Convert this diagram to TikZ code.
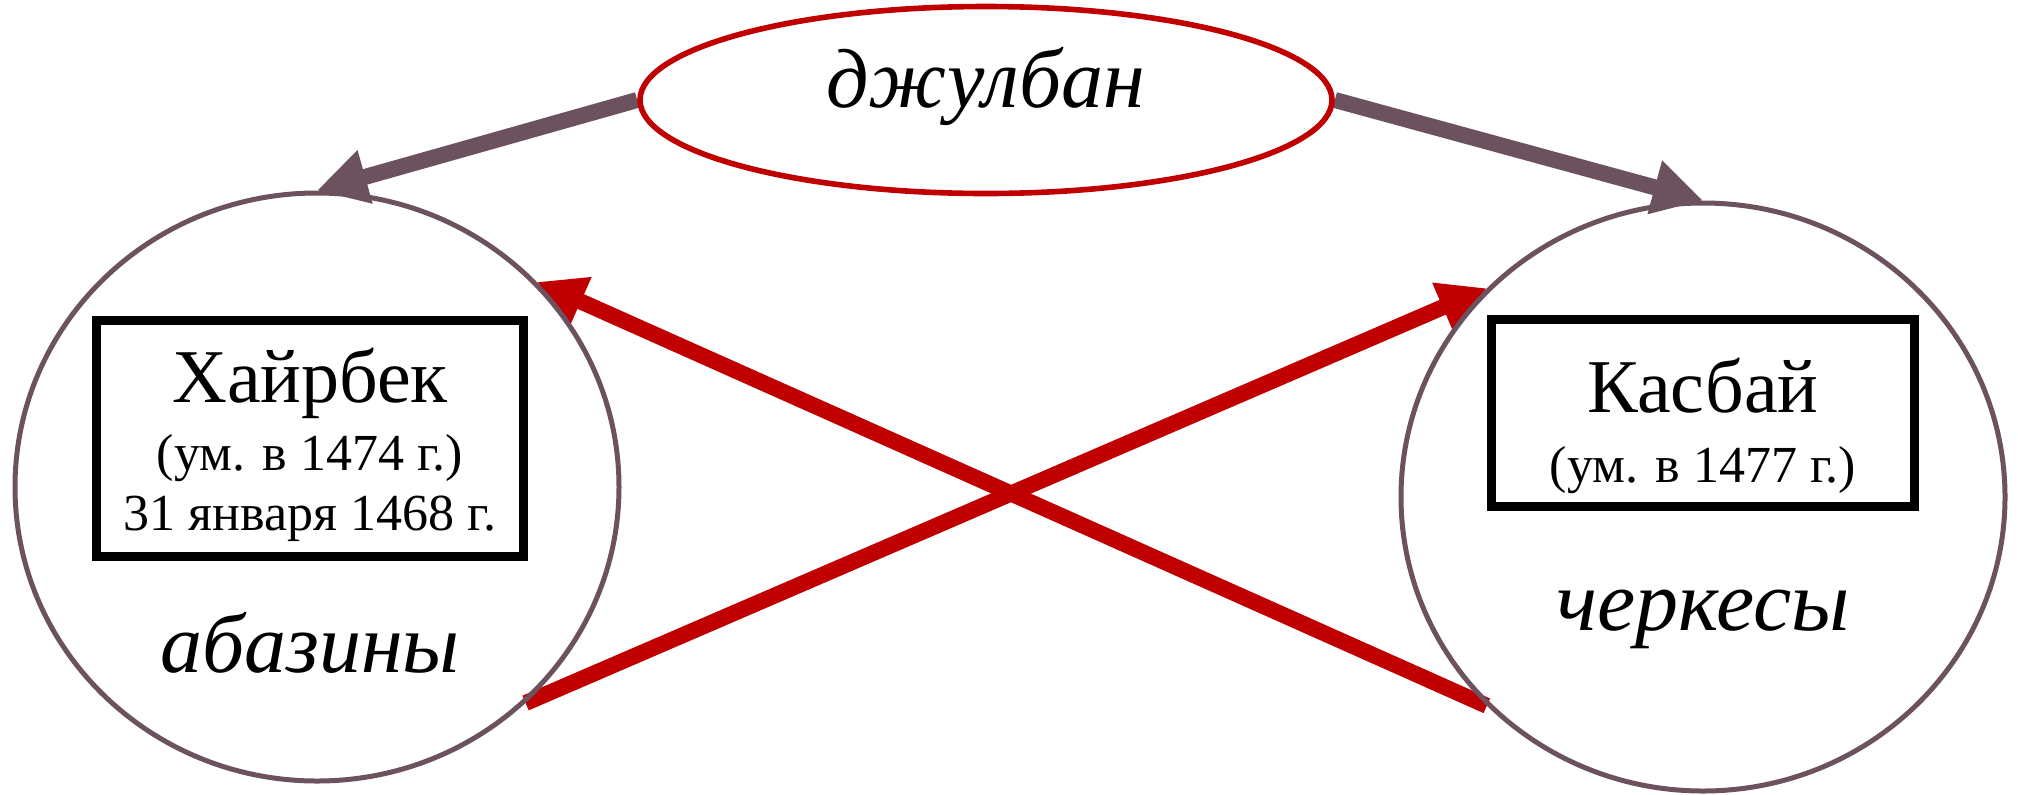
\documentclass[tikz,border=0pt]{standalone}
\usepackage{fontspec}
\setmainfont{Liberation Serif}
\usetikzlibrary{shapes.geometric,arrows.meta}
\definecolor{grayarrow}{RGB}{108,82,94}
\definecolor{darkred}{RGB}{192,0,0}
\pgfdeclarelayer{bg}
\pgfsetlayers{bg,main}
\begin{document}
\begin{tikzpicture}[x=0.5pt,y=-0.5pt,
  group/.style={ellipse, draw=grayarrow, line width=2.5pt, minimum width=302pt, minimum height=294pt, inner sep=0pt},
  tribe/.style={ellipse, draw=darkred, line width=2.8pt, minimum width=346pt, minimum height=93.5pt, inner sep=0pt},
  person/.style={rectangle, draw=black, line width=4.5pt, inner sep=0pt},
  bigtext/.style={font=\fontsize{38}{44}\selectfont, anchor=base, inner sep=0pt},
  smalltext/.style={font=\fontsize{26}{30}\selectfont, anchor=base, inner sep=0pt},
  grouptext/.style={font=\fontsize{42}{50}\selectfont\itshape, anchor=base, inner sep=0pt},
  grayarr/.style={draw=grayarrow, line width=8pt, -{Triangle[length=25pt,width=26pt]}},
  redarr/.style={draw=darkred, line width=8pt, -{Triangle[length=24pt,width=25pt]}},
]
\useasboundingbox (0,0) rectangle (2018,794);
\node[group] (L) at (317,487) {};
\node[group] (R) at (1703,497) {};
\node[tribe] (D) at (986,100) {};
\node[grouptext] (Dt) at (986,107) {джулбан};
\node[person, minimum width=213.5pt, minimum height=118pt] (H) at (310,438.5) {};
\node[bigtext] (Ht1) at (310,402) {Хайрбек};
\node[smalltext] (Ht2) at (310,470) {(ум. в 1474 г.)};
\node[smalltext] (Ht3) at (310,530) {31 января 1468 г.};
\node[person, minimum width=211.5pt, minimum height=93.5pt] (K) at (1703,413) {};
\node[bigtext] (Kt1) at (1703,412) {Касбай};
\node[smalltext] (Kt2) at (1703,482) {(ум. в 1477 г.)};
\node[grouptext] (Lt) at (310,672) {абазины};
\node[grouptext, font=\fontsize{43}{50}\selectfont\itshape] (Rt) at (1703,630) {черкесы};
\begin{pgfonlayer}{bg}
\draw[grayarr] (D.west) -- (L.north);
\draw[grayarr] (D.east) -- (R.north);
\draw[redarr] (L.-46) -- (R.136);
\draw[redarr] (R.224.5) -- (L.43.5);
\end{pgfonlayer}
\end{tikzpicture}
\end{document}
